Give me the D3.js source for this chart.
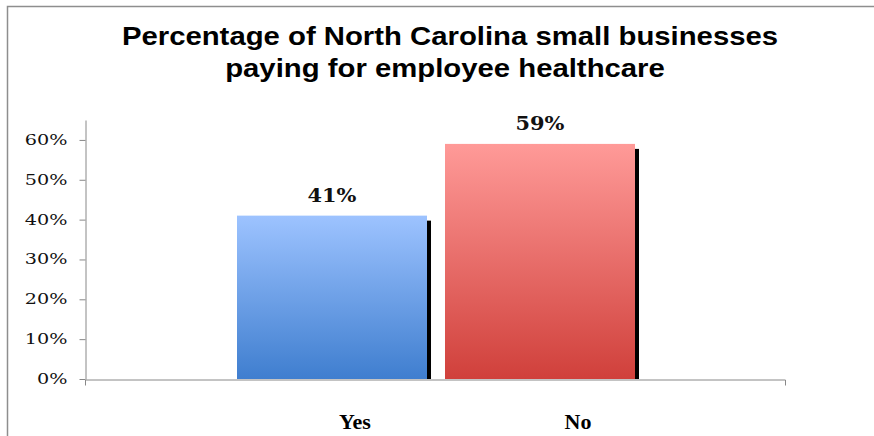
<!DOCTYPE html>
<html>
<head>
<meta charset="utf-8">
<script src="https://cdn.jsdelivr.net/npm/d3@7"></script>
<style>
  html, body { margin: 0; padding: 0; background: #fff; }
  svg { display: block; }
</style>
</head>
<body>
<script>
// Chart data
const categories = ["Yes", "No"];
const values = [0.41, 0.59];
const valueLabels = ["41%", "59%"];
const yTicks = [0, 0.1, 0.2, 0.3, 0.4, 0.5, 0.6];
const titleLines = ["Percentage of North Carolina small businesses", "paying for employee healthcare"];

const W = 874, H = 436;
const svg = d3.select("body").append("svg").attr("width", W).attr("height", H);

// gradients for the two bars
const defs = svg.append("defs");
const gradStops = [
  ["gYes", "#9dc3ff", "#3f7ecf"],
  ["gNo", "#ff9a98", "#d0403b"]
];
gradStops.forEach(([id, top, bottom]) => {
  const g = defs.append("linearGradient").attr("id", id)
    .attr("x1", 0).attr("y1", 0).attr("x2", 0).attr("y2", 1);
  g.append("stop").attr("offset", "0%").attr("stop-color", top);
  g.append("stop").attr("offset", "100%").attr("stop-color", bottom);
});

// frame (top and left edges)
svg.append("path")
  .attr("d", `M7.5,${H} L7.5,6.5 L${W},6.5`)
  .attr("fill", "none").attr("stroke", "#8e8e8e").attr("stroke-width", 1.5);

// widen text horizontally by a factor
function stretch(sel, f) {
  sel.each(function () {
    const len = this.getComputedTextLength();
    d3.select(this).attr("textLength", len * f).attr("lengthAdjust", "spacingAndGlyphs");
  });
}

// title
const titleX = [450, 445];
const title = svg.append("g").selectAll("text").data(titleLines).join("text")
  .attr("x", (d, i) => titleX[i]).attr("y", (d, i) => 45 + i * 32)
  .attr("text-anchor", "middle")
  .attr("font-family", "'Liberation Sans', Arial, sans-serif")
  .attr("font-weight", "bold").attr("font-size", 25)
  .attr("fill", "#000")
  .text(d => d);
stretch(title, 1.172);

// scales
const y = d3.scaleLinear().domain([0, 0.65]).range([379, 120]);
const x = d3.scaleBand().domain(categories).range([237, 635]).paddingInner(0.0865).paddingOuter(0);
const xLab = d3.scalePoint().domain(categories).range([355, 578]);
const xAxisScale = d3.scaleLinear().domain([0, 1]).range([85, 785]);

// y axis
const yAxis = svg.append("g").attr("transform", "translate(85.5,0)")
  .call(d3.axisLeft(y).tickValues(yTicks).tickFormat(d3.format(".0%"))
    .tickSize(6).tickSizeOuter(0).tickPadding(12));
yAxis.selectAll("path, line").attr("stroke", "#888");
yAxis.selectAll("text")
  .attr("font-family", "'DejaVu Serif', serif").attr("font-size", 14).attr("fill", "#111");
stretch(yAxis.selectAll("text"), 1.37);

// x axis baseline with end ticks only
const xAxis = svg.append("g").attr("transform", `translate(0,${y(0) + 0.5})`)
  .call(d3.axisBottom(xAxisScale).tickValues([]).tickSizeOuter(6));
xAxis.selectAll("path").attr("stroke", "#888");

// bars with drop shadow
const bars = svg.append("g");
bars.selectAll("rect.shadow").data(values).join("rect").attr("class", "shadow")
  .attr("x", (d, i) => x(categories[i]) + 4)
  .attr("y", d => y(d) + 5)
  .attr("width", x.bandwidth())
  .attr("height", d => y(0) - y(d) - 5)
  .attr("fill", "#000");
bars.selectAll("rect.bar").data(values).join("rect").attr("class", "bar")
  .attr("x", (d, i) => x(categories[i]))
  .attr("y", d => y(d))
  .attr("width", x.bandwidth())
  .attr("height", d => y(0) - y(d))
  .attr("fill", (d, i) => `url(#${gradStops[i][0]})`);

// value labels
const vl = svg.append("g").selectAll("text").data(values).join("text")
  .attr("x", (d, i) => x(categories[i]) + x.bandwidth() / 2)
  .attr("y", d => y(d) - 14)
  .attr("text-anchor", "middle")
  .attr("font-family", "'DejaVu Serif', serif").attr("font-weight", "bold")
  .attr("font-size", 19).attr("fill", "#111")
  .text((d, i) => valueLabels[i]);
stretch(vl, 1.1);

// category labels
svg.append("g").selectAll("text").data(categories).join("text")
  .attr("x", d => xLab(d)).attr("y", 429)
  .attr("text-anchor", "middle")
  .attr("font-family", "'Liberation Serif', 'Times New Roman', serif").attr("font-weight", "bold")
  .attr("font-size", 22).attr("fill", "#000")
  .text(d => d);
</script>
</body>
</html>
